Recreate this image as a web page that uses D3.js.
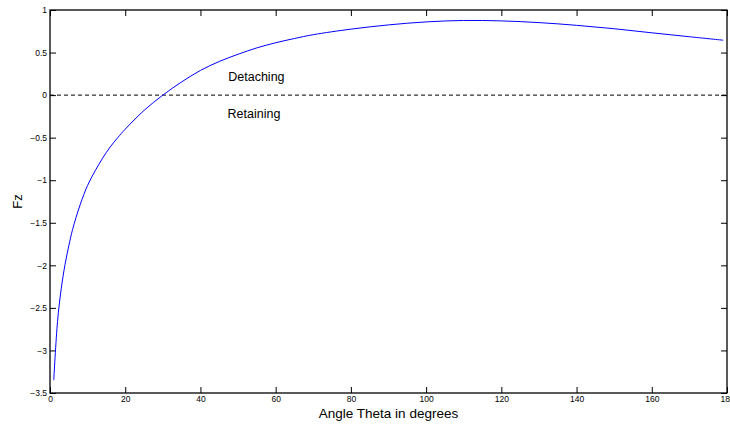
<!DOCTYPE html>
<html>
<head>
<meta charset="utf-8">
<script src="https://cdn.jsdelivr.net/npm/d3@7"></script>
<style>
  html, body { margin: 0; padding: 0; background: #fff; }
  svg { display: block; font-family: "Liberation Sans", Arial, Helvetica, sans-serif; }
</style>
</head>
<body>
<svg id="chart" width="730" height="426"></svg>
<script>
// ---- data ----
const theta = [1, 2, 3, 4, 5, 6, 8, 10, 12, 14, 16, 18, 20, 25, 30, 35, 40, 45, 50, 55, 60, 65, 70, 80, 90, 100, 110, 120, 130, 140, 150, 160, 170, 179];
const fz    = [-3.35, -2.66, -2.27, -1.99, -1.77, -1.58, -1.29, -1.06, -0.89, -0.74, -0.61, -0.50, -0.40, -0.18, 0.00, 0.155, 0.29, 0.395, 0.48, 0.555, 0.615, 0.665, 0.71, 0.775, 0.825, 0.86, 0.877, 0.872, 0.852, 0.82, 0.78, 0.732, 0.686, 0.645];
const xTicks = [0, 20, 40, 60, 80, 100, 120, 140, 160, 180];
const yTicks = [1, 0.5, 0, -0.5, -1, -1.5, -2, -2.5, -3, -3.5];
const refLine = [[0, 0], [180, 0]];
const notes = ["Detaching", "Retaining"];
const noteTheta = [47.4, 47.2];
const noteFz = [0.22, -0.22];
const xTitle = "Angle Theta in degrees";
const yTitle = "Fz";

// ---- layout ----
const svg = d3.select("#chart");
const L = 50, R = 727, T = 10, B = 393;
const x = d3.scaleLinear().domain([0, 180]).range([L, R]);
const y = d3.scaleLinear().domain([-3.5, 1]).range([B, T]);
const fmt = d => d3.format("")(d).replace("-", "\u2212");

// box
svg.append("rect")
  .attr("x", L).attr("y", T).attr("width", R - L).attr("height", B - T)
  .attr("fill", "none").attr("stroke", "#000").attr("stroke-width", 1.3);

const tickLen = 6;
const xb = svg.append("g").attr("transform", `translate(0,${B})`)
  .call(d3.axisBottom(x).tickValues(xTicks).tickSizeInner(-tickLen).tickSizeOuter(0).tickPadding(3).tickFormat(fmt));
const xt = svg.append("g").attr("transform", `translate(0,${T})`)
  .call(d3.axisTop(x).tickValues(xTicks).tickSizeInner(-tickLen).tickSizeOuter(0).tickFormat(""));
const yl = svg.append("g").attr("transform", `translate(${L},0)`)
  .call(d3.axisLeft(y).tickValues(yTicks).tickSizeInner(-tickLen).tickSizeOuter(0).tickPadding(3).tickFormat(fmt));
const yr = svg.append("g").attr("transform", `translate(${R},0)`)
  .call(d3.axisRight(y).tickValues(yTicks).tickSizeInner(-tickLen).tickSizeOuter(0).tickFormat(""));

[xb, xt, yl, yr].forEach(g => {
  g.select(".domain").remove();
  g.selectAll(".tick line").attr("stroke", "#000").attr("stroke-width", 1);
  g.selectAll(".tick text").attr("font-size", 8.5).attr("fill", "#000")
    .attr("font-family", "'Liberation Sans', Arial, sans-serif");
});
xb.selectAll(".tick text").attr("dy", "0.72em");

// dashed zero line
svg.append("path")
  .attr("d", d3.line().x(d => x(d[0])).y(d => y(d[1]))(refLine))
  .attr("fill", "none").attr("stroke", "#000").attr("stroke-width", 1)
  .attr("stroke-dasharray", "4,3");

// curve
const pts = theta.map((t, i) => [t, fz[i]]);
svg.append("path")
  .attr("d", d3.line().x(d => x(d[0])).y(d => y(d[1])).curve(d3.curveCatmullRom.alpha(0.5))(pts))
  .attr("fill", "none").attr("stroke", "#0000ff").attr("stroke-width", 1);

// annotations
notes.forEach((n, i) => {
  svg.append("text")
    .attr("x", x(noteTheta[i])).attr("y", y(noteFz[i]))
    .attr("dy", "0.35em").attr("font-size", 12.5).attr("fill", "#000")
    .text(n);
});

// axis titles
svg.append("text")
  .attr("x", (L + R) / 2).attr("y", 418)
  .attr("text-anchor", "middle").attr("font-size", 13.5).attr("fill", "#000")
  .text(xTitle);
svg.append("text")
  .attr("transform", `translate(22,${(T + B) / 2}) rotate(-90)`)
  .attr("text-anchor", "middle").attr("font-size", 13).attr("fill", "#000")
  .text(yTitle);
</script>
</body>
</html>
